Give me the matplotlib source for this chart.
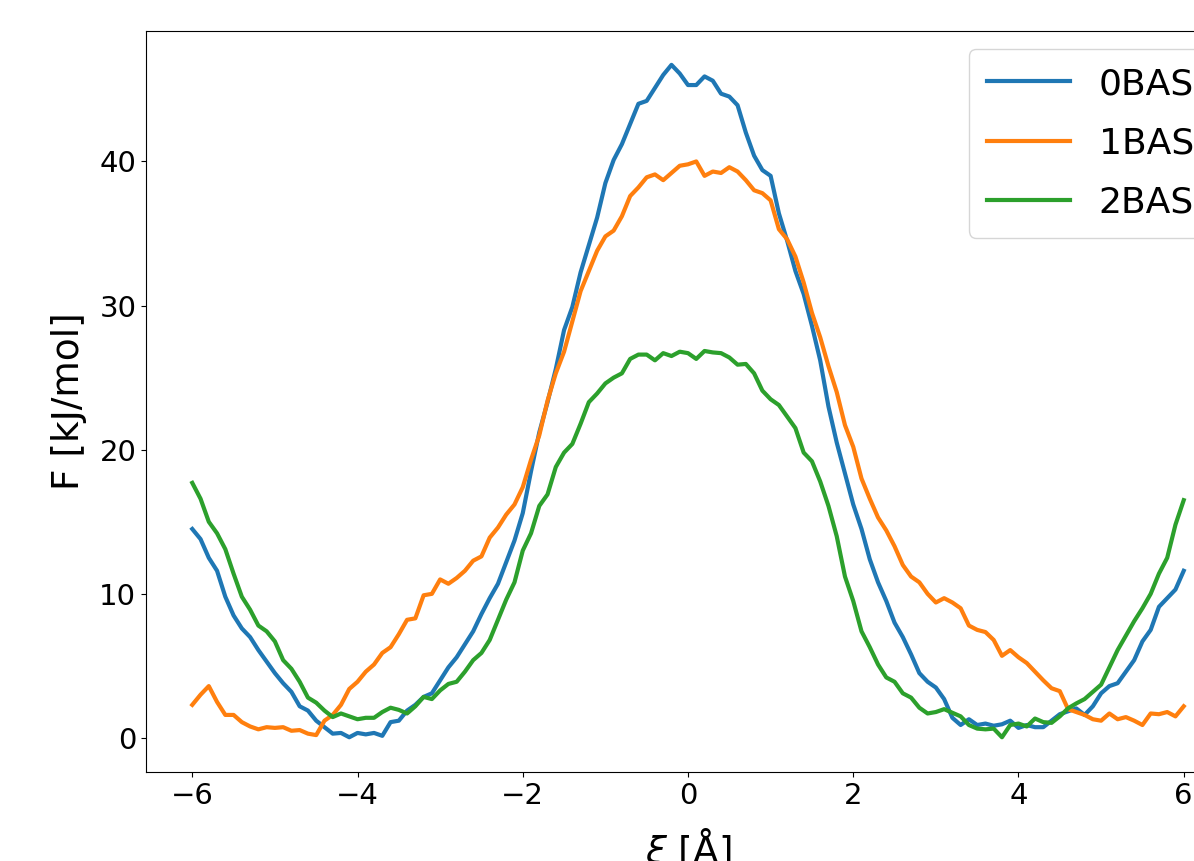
import numpy as np
import matplotlib
matplotlib.use('Agg')
import matplotlib.pyplot as plt

# coordenada de reaccion (A)
xi = np.round(np.arange(-6.0, 6.01, 0.1), 2)

# energia libre (kJ/mol)
f_0bas = [14.5, 13.8, 12.5, 11.6, 9.8, 8.5, 7.6, 7.0, 6.1, 5.3,
          4.5, 3.8, 3.2, 2.2, 1.9, 1.2, 0.75, 0.3, 0.35, 0.05,
          0.35, 0.25, 0.35, 0.15, 1.1, 1.2, 1.9, 2.3, 2.85, 3.1,
          4.0, 4.9, 5.6, 6.5, 7.4, 8.6, 9.7, 10.7, 12.2, 13.7,
          15.6, 18.5, 21.2, 23.3, 25.6, 28.3, 29.9, 32.3, 34.2, 36.1,
          38.5, 40.1, 41.2, 42.6, 44.0, 44.2, 45.1, 46.0, 46.7, 46.1,
          45.3, 45.3, 45.9, 45.6, 44.7, 44.5, 43.9, 42.0, 40.4, 39.4,
          39.0, 36.4, 34.5, 32.4, 30.8, 28.6, 26.2, 23.0, 20.5, 18.35,
          16.2, 14.5, 12.4, 10.8, 9.5, 8.0, 7.0, 5.8, 4.5, 3.9,
          3.5, 2.7, 1.4, 0.9, 1.3, 0.9, 1.0, 0.85, 0.95, 1.2,
          0.7, 0.9, 0.75, 0.75, 1.2, 1.65, 1.85, 2.05, 1.6, 2.2,
          3.1, 3.6, 3.8, 4.6, 5.4, 6.7, 7.5, 9.1, 9.7, 10.3,
          11.6]

f_1bas = [2.3, 3.0, 3.6, 2.5, 1.6, 1.6, 1.1, 0.8, 0.6, 0.75,
          0.7, 0.75, 0.5, 0.55, 0.3, 0.2, 1.2, 1.6, 2.3, 3.4,
          3.9, 4.6, 5.1, 5.9, 6.3, 7.2, 8.2, 8.3, 9.9, 10.0,
          11.0, 10.7, 11.1, 11.6, 12.3, 12.6, 13.9, 14.6, 15.5, 16.2,
          17.4, 19.3, 21.0, 23.4, 25.3, 26.8, 28.9, 31.0, 32.4, 33.8,
          34.8, 35.2, 36.2, 37.6, 38.2, 38.9, 39.1, 38.7, 39.2, 39.7,
          39.8, 40.0, 39.0, 39.3, 39.2, 39.6, 39.3, 38.7, 38.0, 37.8,
          37.3, 35.3, 34.6, 33.4, 31.6, 29.5, 27.8, 25.8, 24.0, 21.7,
          20.2, 18.0, 16.6, 15.3, 14.4, 13.3, 12.0, 11.2, 10.8, 10.0,
          9.4, 9.7, 9.4, 9.0, 7.8, 7.5, 7.35, 6.8, 5.7, 6.1,
          5.6, 5.2, 4.6, 4.0, 3.45, 3.25, 2.0, 1.8, 1.6, 1.3,
          1.2, 1.7, 1.3, 1.45, 1.2, 0.9, 1.7, 1.65, 1.8, 1.5,
          2.2]

f_2bas = [17.7, 16.6, 15.0, 14.2, 13.1, 11.4, 9.8, 8.9, 7.8, 7.4,
          6.7, 5.4, 4.8, 3.9, 2.8, 2.45, 1.9, 1.45, 1.7, 1.5,
          1.3, 1.4, 1.4, 1.8, 2.1, 1.95, 1.7, 2.2, 2.85, 2.7,
          3.3, 3.75, 3.9, 4.6, 5.4, 5.9, 6.8, 8.2, 9.6, 10.8,
          13.0, 14.2, 16.1, 16.9, 18.8, 19.8, 20.4, 21.8, 23.3, 23.9,
          24.6, 25.0, 25.3, 26.3, 26.6, 26.6, 26.2, 26.7, 26.5, 26.8,
          26.7, 26.3, 26.85, 26.75, 26.7, 26.4, 25.9, 25.95, 25.3, 24.1,
          23.5, 23.1, 22.3, 21.5, 19.8, 19.2, 17.8, 16.1, 14.0, 11.2,
          9.5, 7.4, 6.3, 5.1, 4.2, 3.9, 3.1, 2.8, 2.1, 1.7,
          1.8, 2.0, 1.75, 1.5, 0.9, 0.65, 0.6, 0.65, 0.05, 0.9,
          1.0, 0.8, 1.35, 1.1, 1.05, 1.5, 2.06, 2.4, 2.7, 3.2,
          3.7, 4.9, 6.1, 7.1, 8.1, 9.0, 10.0, 11.4, 12.5, 14.8,
          16.5]

series = {'0BAS': f_0bas, '1BAS': f_1bas, '2BAS': f_2bas}

fig = plt.figure(figsize=(11.94, 8.61), dpi=100)
# los ejes se salen por la derecha (figura recortada en el original)
ax = fig.add_axes([146 / 1194, 89 / 861, 1084 / 1194, 741 / 861])

for name, values in series.items():
    ax.plot(xi, values, lw=3, label=name)

ax.set_xlim(-6.56, 6.56)
ax.set_ylim(-2.36, 49.05)
ax.set_xticks([-6, -4, -2, 0, 2, 4, 6])
ax.set_yticks([0, 10, 20, 30, 40])
ax.tick_params(labelsize=21)
ax.set_xlabel(r'$\xi$ [Å]', fontsize=27, labelpad=12)
ax.set_ylabel('F [kJ/mol]', fontsize=27, labelpad=9)
ax.legend(loc='upper right', fontsize=26, handlelength=2.3,
          labelspacing=0.7, borderpad=0.5)

fig.savefig('out.png', dpi=100)
